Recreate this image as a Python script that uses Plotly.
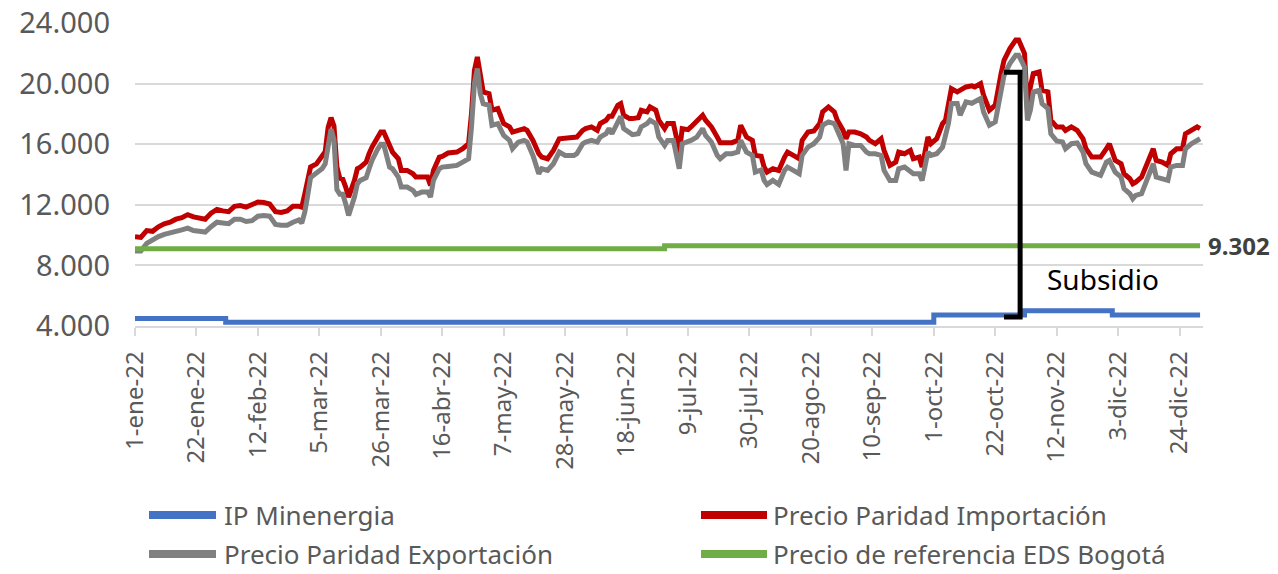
import pandas as pd
import plotly.graph_objects as go

BASE = pd.Timestamp("2022-01-01")

# Day-of-year offsets (0 = 1-ene-22) for the daily parity prices
paridad_dias = [
    0, 2, 4, 6, 8, 10, 12, 14, 16, 18,
    20, 22, 24, 26, 28, 30, 32, 34, 36, 38,
    40, 42, 44, 46, 48, 50, 52, 54, 56, 57,
    58, 59, 60, 62, 64, 65, 66, 67, 68, 69,
    70, 71, 72, 73, 75, 76, 77, 79, 80, 81,
    83, 84, 85, 87, 88, 90, 91, 93, 95, 96,
    98, 100, 101, 102, 104, 105, 107, 109, 110, 112,
    114, 115, 116, 117, 118, 119, 121, 122, 124, 126,
    128, 129, 131, 133, 134, 136, 138, 139, 141, 143,
    145, 147, 150, 151, 153, 154, 156, 158, 159, 161,
    162, 163, 165, 166, 167, 169, 170, 172, 173, 175,
    176, 178, 179, 181, 182, 184, 185, 186, 187, 189,
    190, 192, 194, 195, 197, 199, 200, 202, 204, 206,
    207, 209, 211, 212, 214, 215, 216, 218, 220, 222,
    223, 225, 227, 228, 230, 232, 234, 235, 237, 239,
    240, 242, 243, 244, 246, 248, 250, 251, 253, 255,
    256, 258, 260, 261, 263, 265, 266, 268, 269, 271,
    272, 274, 276, 277, 278, 279, 281, 282, 284, 286,
    287, 289, 290, 292, 294, 296, 297, 299, 301, 302,
    304, 305, 306, 307, 309, 310, 312, 313, 315, 317,
    318, 320, 322, 324, 325, 327, 329, 330, 332, 333,
    335, 337, 338, 340, 341, 342, 344, 346, 348, 349,
    351, 353, 354, 356, 358, 359, 361, 363, 364,
]

precio_paridad_importacion = [
    9900, 9850, 10300, 10250, 10550, 10750, 10850, 11050, 11150, 11350,
    11200, 11100, 11050, 11450, 11700, 11600, 11550, 11900, 11950, 11850,
    12000, 12180, 12150, 12050, 11550, 11500, 11600, 11900, 11900, 11850,
    12700, 13800, 14500, 14700, 15300, 15500, 17100, 17750, 17200, 14500,
    13750, 13700, 13170, 12510, 13610, 14380, 14490, 14820, 15370, 15810,
    16470, 16800, 16800, 15810, 15480, 15040, 14270, 14270, 14050, 13830,
    13870, 13830, 13280, 14270, 15150, 15200, 15420, 15480, 15480, 15700,
    16030, 18020, 20880, 21760, 20440, 19450, 19340, 18240, 18350, 17360,
    17140, 16800, 16910, 17030, 16910, 16250, 15370, 15150, 15040, 15590,
    16360, 16400, 16400, 16470, 16910, 17030, 17140, 16910, 17360, 17580,
    17840, 17840, 18570, 18680, 17910, 17690, 17690, 17750, 18240, 18130,
    18460, 18240, 17580, 17030, 17360, 17360, 16470, 15370, 17030, 16960,
    17140, 17580, 17910, 17580, 17140, 16470, 16100, 16100, 16100, 16250,
    17250, 16470, 16250, 15260, 15200, 14490, 14160, 14380, 14270, 15150,
    15480, 15260, 15040, 16250, 16800, 16870, 17360, 18130, 18460, 18130,
    17580, 16910, 16360, 16800, 16800, 16690, 16470, 16250, 16030, 16360,
    15590, 14600, 14820, 15480, 15370, 15590, 15040, 15150, 14490, 16470,
    16030, 16360, 17360, 17580, 18570, 19670, 19450, 19560, 19780, 19850,
    19780, 20000, 19230, 18240, 18570, 20660, 21540, 22310, 22870, 22870,
    21980, 18240, 19780, 20660, 20770, 19560, 19450, 17580, 17140, 17140,
    16910, 17140, 16910, 16360, 15700, 15150, 15150, 15150, 15700, 16030,
    14930, 14710, 14050, 13720, 13390, 13500, 13830, 14710, 15700, 14930,
    14820, 14600, 15370, 15700, 15700, 16690, 16910, 17140, 17030,
]

precio_paridad_exportacion = [
    8950, 8950, 9450, 9700, 9900, 10050, 10130, 10250, 10350, 10460,
    10300, 10250, 10200, 10550, 10850, 10800, 10750, 11050, 11050, 10900,
    10950, 11250, 11300, 11250, 10700, 10650, 10650, 10850, 11000, 10800,
    11500, 12600, 13800, 14100, 14400, 14700, 16000, 17000, 16300, 13000,
    12700, 12700, 12070, 11300, 12510, 13390, 13610, 13790, 14380, 14930,
    15700, 15990, 15990, 14490, 14380, 13830, 13170, 13170, 12950, 12680,
    12840, 12840, 12510, 13610, 14380, 14490, 14530, 14600, 14600, 14820,
    15040, 17140, 20000, 20990, 19340, 18680, 18570, 17250, 17360, 16580,
    16250, 15700, 16140, 16250, 16140, 15260, 14050, 14380, 14270, 14710,
    15480, 15260, 15260, 15370, 16030, 16140, 16250, 16140, 16470, 16690,
    17030, 16690, 17580, 17840, 17030, 16690, 16630, 16690, 17140, 17360,
    17580, 17360, 16470, 15920, 16250, 16250, 15370, 14380, 16030, 16140,
    16250, 16470, 17030, 16580, 16140, 15260, 15040, 15370, 15370, 15480,
    16250, 15480, 15260, 14160, 14300, 13610, 13340, 13610, 13340, 14270,
    14490, 14270, 14050, 15260, 15810, 16030, 16470, 17250, 17470, 17360,
    16910, 16030, 14270, 16030, 15920, 15920, 15480, 15370, 15370, 15260,
    14270, 13610, 13610, 14380, 14490, 14160, 14050, 14050, 13610, 15480,
    15260, 15370, 15810, 16580, 17360, 18680, 18680, 17910, 18790, 18700,
    18790, 19010, 18130, 17250, 17470, 19560, 20550, 21320, 21870, 21870,
    21100, 17580, 18240, 19450, 19560, 18680, 18350, 16690, 16210, 16140,
    15700, 16030, 16080, 15480, 14710, 14160, 14050, 13940, 14820, 14930,
    14160, 13830, 13060, 12730, 12400, 12620, 12730, 13720, 14710, 13830,
    13720, 13610, 14490, 14600, 14600, 15700, 16030, 16250, 16360,
]

# Monthly step series
ip_fechas = ["2022-01-01", "2022-02-01", "2022-10-01", "2022-11-01", "2022-12-01", "2022-12-31"]
ip_minenergia = [4490, 4240, 4730, 5000, 4730, 4730]

ref_fechas = ["2022-01-01", "2022-07-01", "2022-12-31"]
ref_eds_bogota = [9102, 9302, 9302]

# Axis ticks
tick_fechas = ["2022-01-01", "2022-01-22", "2022-02-12", "2022-03-05", "2022-03-26",
               "2022-04-16", "2022-05-07", "2022-05-28", "2022-06-18", "2022-07-09",
               "2022-07-30", "2022-08-20", "2022-09-10", "2022-10-01", "2022-10-22",
               "2022-11-12", "2022-12-03", "2022-12-24"]
tick_etiquetas = ["1-ene-22", "22-ene-22", "12-feb-22", "5-mar-22", "26-mar-22",
                  "16-abr-22", "7-may-22", "28-may-22", "18-jun-22", "9-jul-22",
                  "30-jul-22", "20-ago-22", "10-sep-22", "1-oct-22", "22-oct-22",
                  "12-nov-22", "3-dic-22", "24-dic-22"]
y_ticks = [4000, 8000, 12000, 16000, 20000, 24000]
y_etiquetas = ["4.000", "8.000", "12.000", "16.000", "20.000", "24.000"]

# Subsidy bracket (gap between import parity and IP)
subsidio_x = ["2022-10-25", "2022-10-30 12:00"]
subsidio_y = [20750, 4600]

nombres = ["IP Minenergia", "Precio Paridad Importación",
           "Precio Paridad Exportación", "Precio de referencia EDS Bogotá"]
colores = ["#4472C4", "#C00000", "#808080", "#70AD47"]

fechas = [BASE + pd.Timedelta(days=d) for d in paridad_dias]

FONT = "Noto Sans"
TXT = "#595959"

fig = go.Figure()
fig.add_trace(go.Scatter(x=ip_fechas, y=ip_minenergia, mode="lines", name=nombres[0],
                         line=dict(color=colores[0], width=5, shape="hv")))
fig.add_trace(go.Scatter(x=fechas, y=precio_paridad_importacion, mode="lines", name=nombres[1],
                         line=dict(color=colores[1], width=5)))
fig.add_trace(go.Scatter(x=fechas, y=precio_paridad_exportacion, mode="lines", name=nombres[2],
                         line=dict(color=colores[2], width=5)))
fig.add_trace(go.Scatter(x=ref_fechas, y=ref_eds_bogota, mode="lines", name=nombres[3],
                         line=dict(color=colores[3], width=5, shape="hv")))

# bracket path in ms (date axis)
def ms(s):
    return pd.Timestamp(s).value // 10**6

xl, xr = ms(subsidio_x[0]), ms(subsidio_x[1])
yt, yb = subsidio_y
path = f"M{xl},{yt} L{xr},{yt} L{xr},{yb} L{xl},{yb}"
shapes = [dict(type="path", xref="x", yref="y", path=path,
               line=dict(color="black", width=5))]

annotations = [
    dict(x="2022-11-08", y=7130, xref="x", yref="y", text="Subsidio", showarrow=False,
         xanchor="left", yanchor="middle", font=dict(family=FONT, size=28, color="black")),
    dict(x=1, y=ref_eds_bogota[-1], xref="paper", yref="y", text="<b>9.302</b>", showarrow=False,
         xanchor="left", yanchor="middle", xshift=3,
         font=dict(family=FONT, size=24, color="#404040")),
]

# manual legend (two columns, two rows)
PW, PH, L0, T0 = 1068.0, 303.0, 135.0, 326.0
leg_items = [(0, 149, 216, 222, 515), (1, 701, 767, 771, 515),
             (2, 149, 216, 222, 554), (3, 701, 767, 771, 554)]
for idx, x0, x1, xt, yc in leg_items:
    yp = (T0 - yc) / PH
    shapes.append(dict(type="line", xref="paper", yref="paper",
                       x0=(x0 - L0) / PW, x1=(x1 - L0) / PW, y0=yp, y1=yp,
                       line=dict(color=colores[idx], width=8)))
    annotations.append(dict(x=(xt - L0) / PW, y=yp, xref="paper", yref="paper",
                            text=nombres[idx], showarrow=False, xanchor="left",
                            yanchor="middle", font=dict(family=FONT, size=26, color=TXT)))

fig.update_layout(
    width=1278, height=574,
    margin=dict(l=135, r=75, t=23, b=248, autoexpand=False),
    paper_bgcolor="white", plot_bgcolor="white",
    showlegend=False,
    shapes=shapes, annotations=annotations,
    font=dict(family=FONT, color=TXT),
)
fig.update_xaxes(
    type="date", range=["2022-01-01", "2023-01-01"], automargin=False,
    tickmode="array", tickvals=tick_fechas, ticktext=tick_etiquetas,
    tickangle=-90, tickfont=dict(family=FONT, size=24, color=TXT),
    showgrid=False, showline=True, linecolor="#D9D9D9", linewidth=1.5,
    ticks="outside", ticklen=8, tickcolor="#D9D9D9", tickwidth=1.5,
    ticklabelstandoff=6, zeroline=False,
)
fig.update_yaxes(
    range=[4000, 24000], automargin=False,
    tickmode="array", tickvals=y_ticks, ticktext=y_etiquetas,
    tickfont=dict(family=FONT, size=29, color=TXT),
    showgrid=True, gridcolor="#D9D9D9", gridwidth=1.5,
    zeroline=False, showline=False, ticks="", ticklabelstandoff=24,
)

fig.write_html("out.html", config={"displayModeBar": False},
               post_script="document.body.style.margin='0';")
